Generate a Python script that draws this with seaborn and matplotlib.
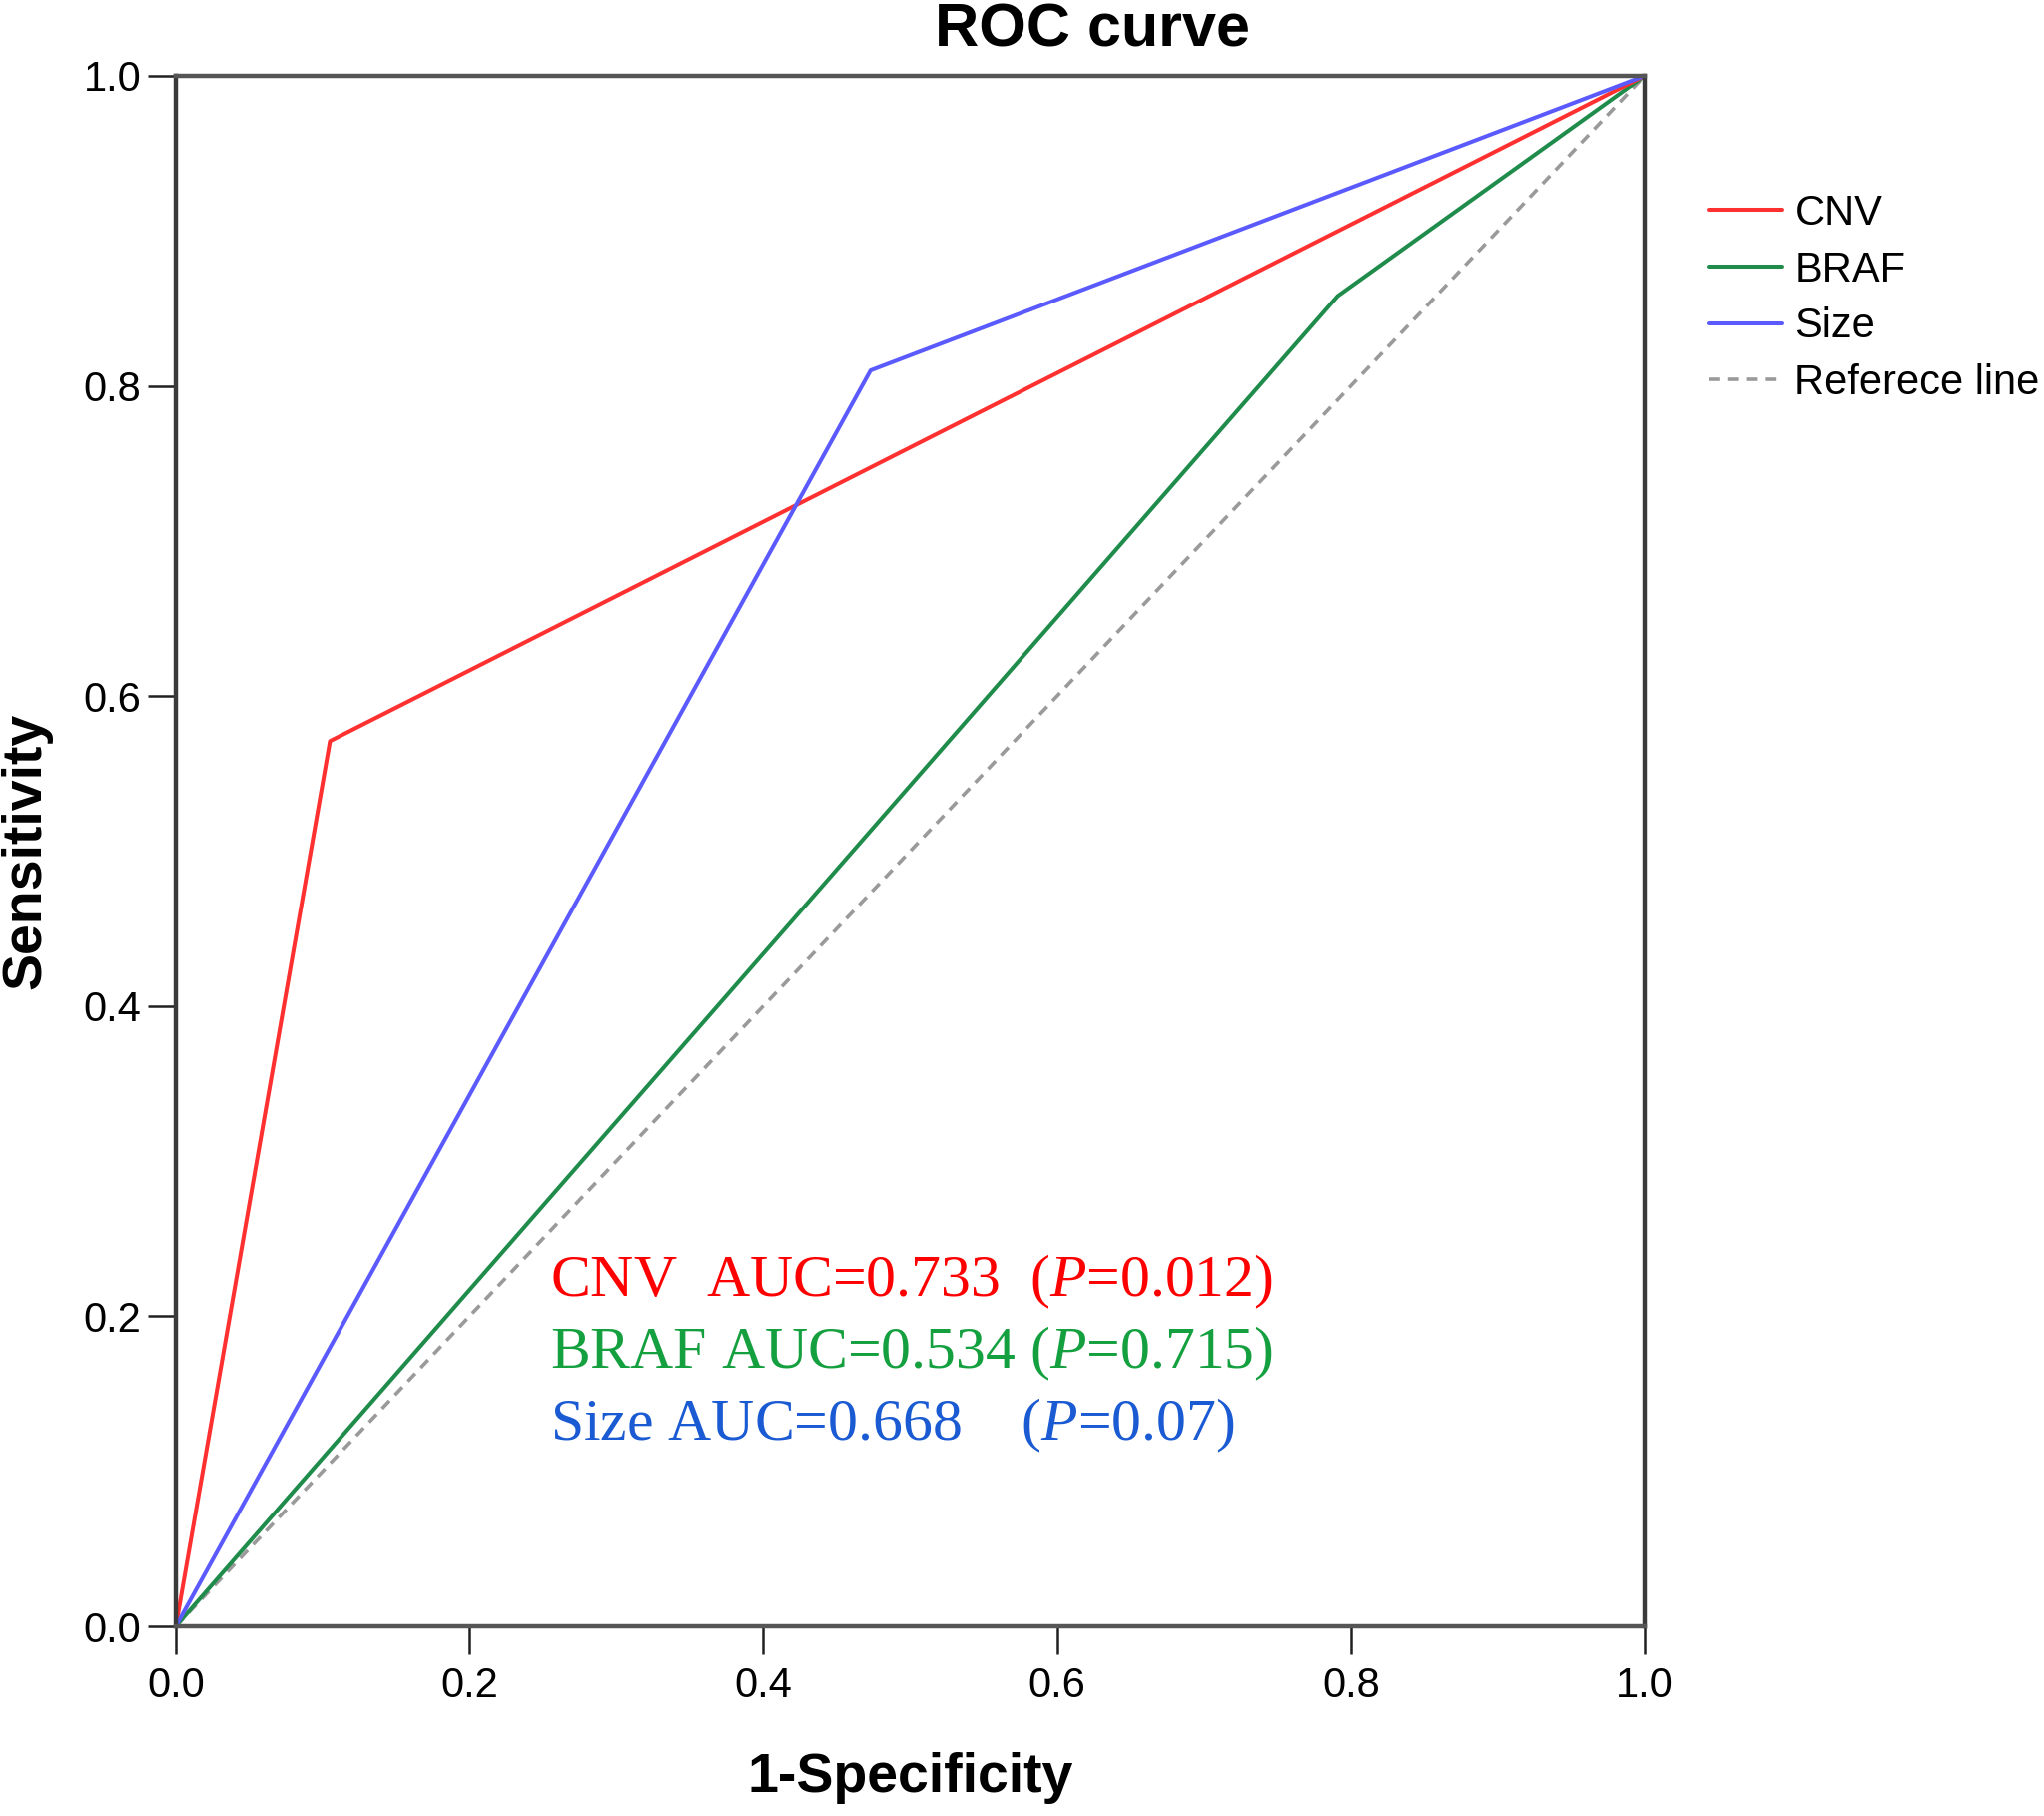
import numpy as np
import pandas as pd
import matplotlib
matplotlib.use("Agg")
import matplotlib.pyplot as plt
import seaborn as sns

# ---- data ----
series_names = ["CNV", "BRAF", "Size"]
cnv_fpr = [0.0, 0.105, 1.0]
cnv_tpr = [0.0, 0.571, 1.0]
braf_fpr = [0.0, 0.791, 1.0]
braf_tpr = [0.0, 0.858, 1.0]
size_fpr = [0.0, 0.473, 1.0]
size_tpr = [0.0, 0.810, 1.0]
ref_x = [0.0, 1.0]
ref_y = [0.0, 1.0]
ref_label = "Referece line"
tick_values = [0.0, 0.2, 0.4, 0.6, 0.8, 1.0]
tick_labels = ["0.0", "0.2", "0.4", "0.6", "0.8", "1.0"]
auc_texts = [
    r"CNV  AUC=0.733  ($\mathit{P}$=0.012)",
    r"BRAF AUC=0.534 ($\mathit{P}$=0.715)",
    r"Size AUC=0.668    ($\mathit{P}$=0.07)",
]

line_colors = {"CNV": "#ff3030", "BRAF": "#208c4c", "Size": "#5a5aff"}
text_colors = ["#ff0000", "#15a040", "#1a5ad2"]

df = pd.concat([
    pd.DataFrame({"fpr": cnv_fpr, "tpr": cnv_tpr, "model": "CNV"}),
    pd.DataFrame({"fpr": braf_fpr, "tpr": braf_tpr, "model": "BRAF"}),
    pd.DataFrame({"fpr": size_fpr, "tpr": size_tpr, "model": "Size"}),
], ignore_index=True)
ref_df = pd.DataFrame({"x": ref_x, "y": ref_y})

sns.set_style("white")
plt.rcParams["font.family"] = ["Liberation Sans", "DejaVu Sans"]
plt.rcParams["mathtext.fontset"] = "custom"
plt.rcParams["mathtext.rm"] = "Liberation Serif"
plt.rcParams["mathtext.it"] = "Liberation Serif:italic"

W, H = 2047, 1819
fig = plt.figure(figsize=(W / 100, H / 100), dpi=100)
ax = fig.add_axes([176 / W, 1 - 1629 / H, (1647 - 176) / W, (1629 - 76) / H])

sns.lineplot(data=ref_df, x="x", y="y", ax=ax, color="#9a9a9a", lw=2.6,
             linestyle=(0, (3, 2.2)), label=ref_label, estimator=None, sort=False)
for name in ["BRAF", "CNV", "Size"]:
    sub = df[df["model"] == name]
    sns.lineplot(data=sub, x="fpr", y="tpr", ax=ax, color=line_colors[name],
                 lw=2.9, label=name, estimator=None, sort=False)

ax.set_xlim(0, 1)
ax.set_ylim(0, 1)
ax.set_xticks(tick_values)
ax.set_xticklabels(tick_labels)
ax.set_yticks(tick_values)
ax.set_yticklabels(tick_labels)
ax.tick_params(axis="both", direction="out", length=20, width=1.8,
               color="#202020", labelsize=30, labelcolor="black")
ax.tick_params(axis="x", pad=9)
ax.tick_params(axis="y", pad=5)
ax.tick_params(bottom=True, left=True)

for side, sp in ax.spines.items():
    sp.set_visible(True)
    sp.set_linewidth(3.2)
    sp.set_color("#3a3a3a" if side in ("left", "right") else "#555555")

ax.set_xlabel("1-Specificity", fontsize=40, fontweight="bold", color="black")
ax.set_ylabel("Sensitivity", fontsize=40, fontweight="bold", color="black")
ax.xaxis.set_label_coords(0.5, (1629 - 1781) / 1553)
ax.xaxis.label.set_va("center")
ax.yaxis.set_label_coords((26 - 176) / 1471, 0.5)
ax.yaxis.label.set_va("center")

fig.text(1094 / W, 1 - 31 / H, "ROC curve", ha="center", va="center",
         fontsize=44, fontweight="bold", color="black")

ys = [0.2126, 0.1664, 0.1202]
for t, c, yv in zip(auc_texts, text_colors, ys):
    ax.text(0.255, yv, t, color=c, fontsize=43, family="Liberation Serif",
            ha="left", va="baseline")

handles, labels = ax.get_legend_handles_labels()
order = ["CNV", "BRAF", "Size", ref_label]
hmap = dict(zip(labels, handles))
leg = fig.legend([hmap[o] for o in order], order,
                 loc="upper left", bbox_to_anchor=(1712 / W, 1 - 194 / H),
                 frameon=False, fontsize=30, handlelength=1.75,
                 handletextpad=0.3, labelspacing=0.40, borderpad=0,
                 borderaxespad=0)
for txt in leg.get_texts():
    txt.set_color("black")
if ax.get_legend():
    ax.get_legend().remove()

fig.savefig("out.png", dpi=100)
